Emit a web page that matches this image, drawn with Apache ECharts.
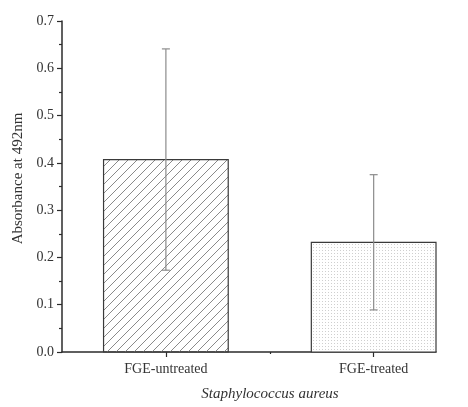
<!DOCTYPE html>
<html>
<head>
<meta charset="utf-8">
<script src="https://cdn.jsdelivr.net/npm/echarts@6/dist/echarts.min.js"></script>
<style>
  html, body { margin: 0; padding: 0; background: #fff; }
  #chart { width: 468px; height: 407px; }
</style>
</head>
<body>
<div id="chart"></div>
<script>
const groups = ['FGE-untreated', 'FGE-treated'];
const positions = [1, 2];
const means = [0.407, 0.232];
const errors = [0.234, 0.143];
const yTicks = [0, 0.1, 0.2, 0.3, 0.4, 0.5, 0.6, 0.7];

const FONT = '"Liberation Serif", "DejaVu Serif", serif';
const INK = '#2b2b2b';

// hatch fill for the first bar
const makeStripes = () => {
  const c = document.createElement('canvas');
  c.width = 9; c.height = 9;
  const g = c.getContext('2d');
  g.strokeStyle = '#8a8a8a';
  g.lineWidth = 1;
  g.beginPath();
  g.moveTo(0, 9); g.lineTo(9, 0);
  g.moveTo(-1, 1); g.lineTo(1, -1);
  g.moveTo(8, 10); g.lineTo(10, 8);
  g.stroke();
  return c;
};

// fine dot fill for the second bar
const makeDots = () => {
  const c = document.createElement('canvas');
  c.width = 3; c.height = 3;
  const g = c.getContext('2d');
  g.fillStyle = '#ffffff';
  g.fillRect(0, 0, 3, 3);
  g.fillStyle = '#cfcfcf';
  g.fillRect(1, 1, 1, 1);
  return c;
};

const fills = [
  { image: makeStripes(), repeat: 'repeat' },
  { image: makeDots(), repeat: 'repeat' },
];

const barData = positions.map((p, i) => [p, means[i]]);
const errData = positions.map((p, i) => [p, means[i] - errors[i], means[i] + errors[i]]);

const chart = echarts.init(document.getElementById('chart'), null, { renderer: 'canvas' });

chart.setOption({
  animation: false,
  grid: { left: 62, right: 32, top: 21, bottom: 51, containLabel: false },
  xAxis: [
    {
      type: 'value',
      min: 0.5,
      max: 2.3,
      splitLine: { show: false },
      axisLine: { lineStyle: { color: INK, width: 1.5 } },
      axisTick: { customValues: positions, length: 5, lineStyle: { color: INK, width: 1.2 } },
      axisLabel: {
        customValues: positions,
        margin: 10,
        fontFamily: FONT,
        fontSize: 14,
        color: '#333',
        formatter: v => groups[positions.indexOf(Math.round(v))] || '',
      },
      name: 'Staphylococcus aureus',
      nameLocation: 'middle',
      nameGap: 35,
      nameTextStyle: {
        fontFamily: FONT,
        fontStyle: 'italic',
        fontSize: 15,
        color: '#333',
        padding: [0, 0, 0, 42],
      },
    },
    {
      // small mid tick between the groups
      type: 'value',
      min: 0.5,
      max: 2.3,
      position: 'bottom',
      splitLine: { show: false },
      axisLine: { show: false },
      axisLabel: { show: false },
      axisTick: { customValues: [1.5], length: 2, lineStyle: { color: INK, width: 1.2 } },
    },
  ],
  yAxis: {
    type: 'value',
    min: 0,
    max: 0.7,
    interval: 0.1,
    splitLine: { show: false },
    axisLine: { show: true, lineStyle: { color: INK, width: 1.5 } },
    axisTick: { show: true, length: 5, lineStyle: { color: INK, width: 1.2 } },
    minorTick: { show: true, splitNumber: 2, length: 3, lineStyle: { color: INK, width: 1.2 } },
    axisLabel: {
      margin: 8,
      fontFamily: FONT,
      fontSize: 14,
      color: '#333',
      formatter: v => {
        const t = yTicks.find(k => Math.abs(k - v) < 1e-9);
        return (t !== undefined ? t : v).toFixed(1);
      },
    },
    name: 'Absorbance at 492nm',
    nameLocation: 'middle',
    nameGap: 31,
    nameTextStyle: {
      fontFamily: FONT,
      fontSize: 15,
      color: '#333',
      padding: [0, 0, 0, 16],
    },
  },
  series: [
    {
      type: 'custom',
      xAxisIndex: 0,
      data: barData,
      renderItem: (params, api) => {
        const x = api.value(0);
        const top = api.coord([x - 0.3, api.value(1)]);
        const bottom = api.coord([x + 0.3, 0]);
        return {
          type: 'rect',
          shape: { x: top[0], y: top[1], width: bottom[0] - top[0], height: bottom[1] - top[1] },
          style: { fill: fills[params.dataIndex], stroke: '#3a3a3a', lineWidth: 1.2 },
        };
      },
      z: 2,
    },
    {
      type: 'custom',
      xAxisIndex: 0,
      data: errData,
      renderItem: (params, api) => {
        const lo = api.coord([api.value(0), api.value(1)]);
        const hi = api.coord([api.value(0), api.value(2)]);
        const cap = 4;
        const stroke = { stroke: '#8c8c8c', lineWidth: 1.2 };
        return {
          type: 'group',
          children: [
            { type: 'line', shape: { x1: lo[0], y1: lo[1], x2: hi[0], y2: hi[1] }, style: stroke },
            { type: 'line', shape: { x1: hi[0] - cap, y1: hi[1], x2: hi[0] + cap, y2: hi[1] }, style: stroke },
            { type: 'line', shape: { x1: lo[0] - cap, y1: lo[1], x2: lo[0] + cap, y2: lo[1] }, style: stroke },
          ],
        };
      },
      z: 3,
    },
  ],
});

window.addEventListener('resize', () => chart.resize());
</script>
</body>
</html>
